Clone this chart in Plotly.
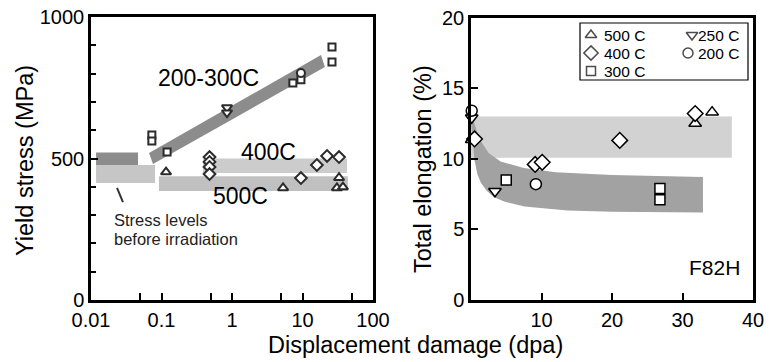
import numpy as np
import plotly.graph_objects as go

FONT = "Liberation Sans, Arial, Helvetica, sans-serif"
W, H = 770, 362

# ---------------- Left panel: yield stress vs displacement damage (log) ----------------
ys_500_dpa = [0.116, 5.3, 30.8, 33.0, 37.5]
ys_500_val = [452, 396, 396, 432, 399]
ys_400_dpa = [0.48, 0.48, 0.48, 0.48, 9.5, 16.0, 22.3, 33.0]
ys_400_val = [505, 488, 470, 445, 431, 477, 509, 505]
ys_300_dpa = [0.073, 0.073, 0.12, 7.3, 9.5, 26.2, 26.2]
ys_300_val = [583, 562, 523, 767, 778, 894, 841]
ys_250_dpa = [0.85, 0.85]
ys_250_val = [680, 662]
ys_200_dpa = [9.5]
ys_200_val = [802]

# bands (x0, x1, y0, y1)
band_pre_dark = [0.0118, 0.0464, 477, 521]
band_pre_light = [0.0118, 0.081, 413, 477]
band_400 = [0.388, 42.8, 449, 500]
band_500 = [0.092, 44.0, 385, 437]
band_lo_x = [0.0665, 18.3, 20.8, 0.0757]
band_lo_y = [519, 866, 823, 481]

pointer_x = [0.0234, 0.0284]
pointer_y = [396, 346]

left_xticks = [0.01, 0.1, 1, 10, 100]
left_xticktext = ["0.01", "0.1", "1", "10", "100"]
left_xminor = [0.05, 0.5, 5, 50]

# ---------------- Right panel: total elongation vs dpa ----------------
el_500_dpa = [0.1, 31.8, 34.2]
el_500_val = [11.35, 12.5, 13.3]
el_400_dpa = [0.5, 9.1, 10.1, 21.1, 31.8]
el_400_val = [11.4, 9.6, 9.75, 11.3, 13.2]
el_300_dpa = [5.0, 26.8, 26.8]
el_300_val = [8.5, 7.9, 7.1]
el_250_dpa = [0.1, 3.4]
el_250_val = [12.9, 7.7]
el_200_dpa = [0.1, 9.2]
el_200_val = [13.4, 8.2]

band_hi_rect = [0, 37.0, 10.07, 13.0]
curve_up_x = [0, 0.3, 1.2, 2.5, 4.2, 7.5, 12, 20, 32.9]
curve_up_y = [13.0, 12.8, 11.4, 10.4, 9.8, 9.35, 9.05, 8.85, 8.7]
curve_lo_x = [0, 0.2, 0.5, 0.9, 1.4, 2.2, 3.2, 4.7, 7.6, 13.7, 20, 32.9]
curve_lo_y = [12.6, 11.3, 9.9, 8.9, 8.3, 7.75, 7.3, 6.97, 6.62, 6.33, 6.25, 6.2]

legend_labels = ["500 C", "400 C", "300 C", "250 C", "200 C"]
legend_symbols = ["triangle-up", "diamond", "square", "triangle-down", "circle"]

fig = go.Figure()


def rect(b):
    x0, x1, y0, y1 = b
    return [x0, x1, x1, x0, x0], [y0, y0, y1, y1, y0]


def band(x, y, color, xa, ya):
    fig.add_trace(go.Scatter(x=x, y=y, mode="lines", fill="toself", fillcolor=color,
                             line=dict(width=0, color=color), hoverinfo="skip",
                             showlegend=False, xaxis=xa, yaxis=ya))


# left bands
bx, by = rect(band_pre_light); band(bx, by, "rgb(198,198,198)", "x", "y")
bx, by = rect(band_pre_dark); band(bx, by, "rgb(140,140,140)", "x", "y")
bx, by = rect(band_400); band(bx, by, "rgb(204,204,204)", "x", "y")
bx, by = rect(band_500); band(bx, by, "rgb(192,192,192)", "x", "y")
band(band_lo_x + [band_lo_x[0]], band_lo_y + [band_lo_y[0]], "rgb(140,140,140)", "x", "y")

fig.add_trace(go.Scatter(x=pointer_x, y=pointer_y, mode="lines",
                         line=dict(color="#333", width=2), showlegend=False,
                         hoverinfo="skip", xaxis="x", yaxis="y"))

# right bands
bx, by = rect(band_hi_rect); band(bx, by, "rgb(210,210,210)", "x2", "y2")
band(curve_up_x + curve_lo_x[::-1], curve_up_y + curve_lo_y[::-1], "rgb(162,162,162)", "x2", "y2")

# left markers
left_sets = [
    (ys_500_dpa, ys_500_val, "triangle-up", 9),
    (ys_400_dpa, ys_400_val, "diamond", 9),
    (ys_300_dpa, ys_300_val, "square", 7),
    (ys_250_dpa, ys_250_val, "triangle-down", 9),
    (ys_200_dpa, ys_200_val, "circle", 8),
]
for x, y, sym, sz in left_sets:
    fig.add_trace(go.Scatter(x=x, y=y, mode="markers", cliponaxis=False,
                             marker=dict(symbol=sym, size=sz, color="white",
                                         line=dict(color="#2b2b2b", width=2)),
                             showlegend=False, xaxis="x", yaxis="y"))

# right markers
right_sets = [
    (el_500_dpa, el_500_val, "triangle-up", 11, "500 C"),
    (el_400_dpa, el_400_val, "diamond", 12, "400 C"),
    (el_300_dpa, el_300_val, "square", 10, "300 C"),
    (el_250_dpa, el_250_val, "triangle-down", 11, "250 C"),
    (el_200_dpa, el_200_val, "circle", 11, "200 C"),
]
for x, y, sym, sz, name in right_sets:
    fig.add_trace(go.Scatter(x=x, y=y, mode="markers", cliponaxis=False, name=name,
                             marker=dict(symbol=sym, size=sz, color="white",
                                         line=dict(color="black", width=1.5)),
                             showlegend=False, xaxis="x2", yaxis="y2"))

# manual legend (axis x3/y3 in pixel units of the legend box)
leg_pos_x = [591, 591, 591, 692, 688]
leg_pos_y = [35, 53, 71, 35, 53]
leg_text_x = [603, 603, 603, 697, 697]
leg_sizes = [10, 11, 9, 10, 10]
fig.add_trace(go.Scatter(x=leg_pos_x, y=leg_pos_y, mode="markers", cliponaxis=False,
                         marker=dict(symbol=legend_symbols, size=leg_sizes, color="white",
                                     line=dict(color="black", width=1.5)),
                         showlegend=False, hoverinfo="skip", xaxis="x3", yaxis="y3"))

ann = []
for lab, tx, ty in zip(legend_labels, leg_text_x, leg_pos_y):
    ann.append(dict(x=tx, y=ty, xref="x3", yref="y3", text=lab, showarrow=False, borderpad=0,
                    xanchor="left", yanchor="middle", font=dict(family=FONT, size=15.5, color="black")))


def lx(v):
    return float(np.log10(v))


band_labels = [("200-300C", 0.47, 784), ("400C", 3.25, 523), ("500C", 1.34, 367)]
for t, xv, yv in band_labels:
    ann.append(dict(x=lx(xv), y=yv, xref="x", yref="y", text=t, showarrow=False,
                    xanchor="center", yanchor="middle", font=dict(family=FONT, size=23, color="black")))
ann.append(dict(x=lx(0.0205), y=(300 - 220) / 0.283, xref="x", yref="y", text="Stress levels",
                showarrow=False, xanchor="left", yanchor="middle", borderpad=0,
                font=dict(family=FONT, size=16.5, color="#222")))
ann.append(dict(x=lx(0.0205), y=(300 - 238.5) / 0.283, xref="x", yref="y", text="before irradiation",
                showarrow=False, xanchor="left", yanchor="middle", borderpad=0,
                font=dict(family=FONT, size=16.5, color="#222")))
ann.append(dict(x=34.5, y=2.3, xref="x2", yref="y2", text="F82H", showarrow=False,
                xanchor="center", yanchor="middle", font=dict(family=FONT, size=21, color="black")))

# axis titles
ann.append(dict(x=25 / W, y=1 - 161 / H, xref="paper", yref="paper", text="Yield stress (MPa)",
                textangle=-90, showarrow=False, xanchor="center", yanchor="middle",
                font=dict(family=FONT, size=23.5, color="black")))
ann.append(dict(x=423 / W, y=1 - 169 / H, xref="paper", yref="paper", text="Total elongation (%)",
                textangle=-90, showarrow=False, xanchor="center", yanchor="middle",
                font=dict(family=FONT, size=23.5, color="black")))
ann.append(dict(x=415 / W, y=1 - 345 / H, xref="paper", yref="paper", text="Displacement damage (dpa)",
                showarrow=False, xanchor="center", yanchor="middle",
                font=dict(family=FONT, size=23.5, color="black")))

tickfont = dict(family=FONT, size=20, color="black")
common = dict(showline=True, linecolor="black", linewidth=2.5, mirror=True, showgrid=False,
              zeroline=False, ticks="inside", tickcolor="black", tickwidth=2, ticklen=7,
              tickfont=tickfont)

fig.update_layout(
    width=W, height=H, margin=dict(l=0, r=0, t=0, b=0, autoexpand=False),
    paper_bgcolor="white", plot_bgcolor="white", showlegend=False,
    annotations=ann,
    shapes=[dict(type="rect", xref="paper", yref="paper", x0=580 / W, x1=748 / W,
                 y0=1 - 80 / H, y1=1 - 23 / H, line=dict(color="black", width=1.2))],
    xaxis=dict(domain=[91 / W, 373 / W], anchor="y", type="log", range=[-2, 2],
               tickmode="array", tickvals=left_xticks, ticktext=left_xticktext,
               minor=dict(tickmode="array", tickvals=left_xminor, ticks="inside",
                          ticklen=7, tickwidth=2, tickcolor="black"),
               **common),
    yaxis=dict(domain=[1 - 300 / H, 1 - 17 / H], anchor="x", range=[0, 1000],
               tickmode="linear", tick0=0, dtick=500,
               minor=dict(dtick=100, ticks="inside", ticklen=5, tickwidth=2, tickcolor="black"),
               **common),
    xaxis2=dict(domain=[471 / W, 753 / W], anchor="y2", range=[0, 40],
                tickmode="array", tickvals=[10, 20, 30, 40], **common),
    yaxis2=dict(domain=[1 - 300 / H, 1 - 17.5 / H], anchor="x2", range=[0, 20],
                tickmode="array", tickvals=[0, 5, 10, 15, 20], **common),
    xaxis3=dict(domain=[580 / W, 748 / W], anchor="y3", range=[580, 748], visible=False,
                fixedrange=True),
    yaxis3=dict(domain=[1 - 80 / H, 1 - 23 / H], anchor="x3", range=[80, 23], visible=False,
                fixedrange=True),
)

fig.write_html("out.html")
